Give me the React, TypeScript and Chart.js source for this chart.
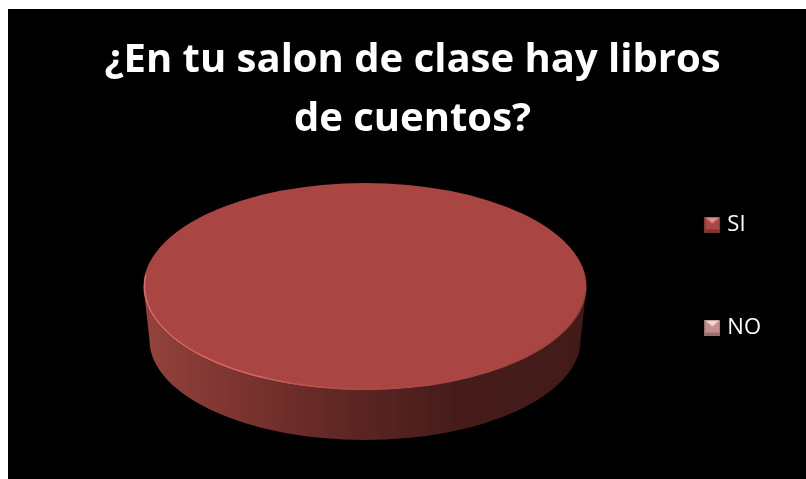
import React, { useEffect, useRef } from "react";
import { Chart, registerables } from "chart.js";

Chart.register(...registerables);

const categories = ["SI", "NO"];
const seriesValues = [100, 0];
const titleLines = ["¿En tu salon de clase hay libros", "de cuentos?"];
const sliceColors = ["#A94543", "#D09A99"];

const FACE = { cx: 357, cy: 277.6, rx: 221.5, ry: 103.7 };
const BASE = { cx: 357, cy: 331, rx: 215.5, ry: 100 };

function swatch(color: string, light: string, dark: string) {
  const c = document.createElement("canvas");
  c.width = 16;
  c.height = 16;
  const g = c.getContext("2d")!;
  g.fillStyle = dark;
  g.fillRect(0, 0, 16, 16);
  g.fillStyle = color;
  g.fillRect(1, 1, 14, 12);
  g.fillStyle = light;
  g.beginPath();
  g.moveTo(1, 1);
  g.lineTo(15, 1);
  g.lineTo(8, 7);
  g.closePath();
  g.fill();
  return c;
}

const solid3d = {
  id: "solid3d",
  beforeDatasetsDraw(chart: any) {
    const ctx = chart.ctx;
    const arc = chart.getDatasetMeta(0).data[0];
    const R = arc.outerRadius;

    const grad = ctx.createLinearGradient(BASE.cx - BASE.rx, 0, BASE.cx + BASE.rx, 0);
    grad.addColorStop(0, "#93413c");
    grad.addColorStop(0.2, "#7d3430");
    grad.addColorStop(0.5, "#5a2422");
    grad.addColorStop(0.72, "#451c1a");
    grad.addColorStop(1, "#421b18");
    ctx.save();
    ctx.beginPath();
    ctx.ellipse(FACE.cx, FACE.cy, FACE.rx, FACE.ry, 0, 0, Math.PI);
    ctx.ellipse(BASE.cx, BASE.cy, BASE.rx, BASE.ry, 0, Math.PI, 0, true);
    ctx.closePath();
    ctx.fillStyle = grad;
    ctx.fill();
    ctx.restore();

    ctx.save();
    ctx.translate(FACE.cx, FACE.cy);
    ctx.scale(FACE.rx / R, FACE.ry / R);
    ctx.translate(-arc.x, -arc.y);
  },
  afterDatasetsDraw(chart: any) {
    const ctx = chart.ctx;
    ctx.restore();
    const rim = ctx.createLinearGradient(FACE.cx - FACE.rx, 0, FACE.cx + FACE.rx, 0);
    rim.addColorStop(0, "rgba(226,110,104,0.9)");
    rim.addColorStop(0.25, "rgba(226,110,104,0.75)");
    rim.addColorStop(0.5, "rgba(200,90,86,0.25)");
    rim.addColorStop(1, "rgba(120,50,48,0.3)");
    ctx.save();
    ctx.beginPath();
    ctx.ellipse(FACE.cx, FACE.cy, FACE.rx - 1, FACE.ry - 1, 0, 0.05, Math.PI + 0.12);
    ctx.strokeStyle = rim;
    ctx.lineWidth = 1.5;
    ctx.stroke();
    ctx.restore();
  },
};

export default function App() {
  const ref = useRef<HTMLCanvasElement>(null);
  useEffect(() => {
    const swatches = [
      swatch("#A94543", "#E58A86", "#7F3432"),
      swatch("#C48E8D", "#F3D5D4", "#9A6E6D"),
    ];
    const chart = new Chart(ref.current!, {
      type: "pie",
      data: {
        labels: categories,
        datasets: [{ data: seriesValues, backgroundColor: sliceColors, borderWidth: 0 }],
      },
      plugins: [solid3d],
      options: {
        animation: false,
        responsive: false,
        maintainAspectRatio: false,
        layout: { padding: { left: 46, right: 35, top: 64, bottom: 0 } },
        plugins: {
          tooltip: { enabled: false },
          title: {
            display: true,
            text: titleLines,
            color: "#ffffff",
            font: { family: "Open Sans", weight: "bold", size: 40, lineHeight: 1.475 },
            padding: { top: -42, bottom: 0 },
          },
          legend: {
            position: "right",
            labels: {
              color: "#ffffff",
              font: { family: "Open Sans", size: 22 },
              usePointStyle: true,
              boxWidth: 8,
              boxHeight: 16,
              padding: 81,
              generateLabels: () =>
                categories.map((text, i) => ({
                  text,
                  pointStyle: swatches[i],
                  fontColor: "#ffffff",
                  fillStyle: sliceColors[i],
                  strokeStyle: sliceColors[i],
                  lineWidth: 0,
                  hidden: false,
                  index: i,
                })),
            },
          },
        },
      },
    } as any);
    return () => chart.destroy();
  }, []);
  return (
    <div style={{ position: "fixed", inset: 0, background: "#fff", overflow: "hidden" }}>
      <canvas
        ref={ref}
        width={798}
        height={470}
        style={{ position: "absolute", left: 8, top: 9, width: 798, height: 470, background: "#000", display: "block" }}
      />
    </div>
  );
}
